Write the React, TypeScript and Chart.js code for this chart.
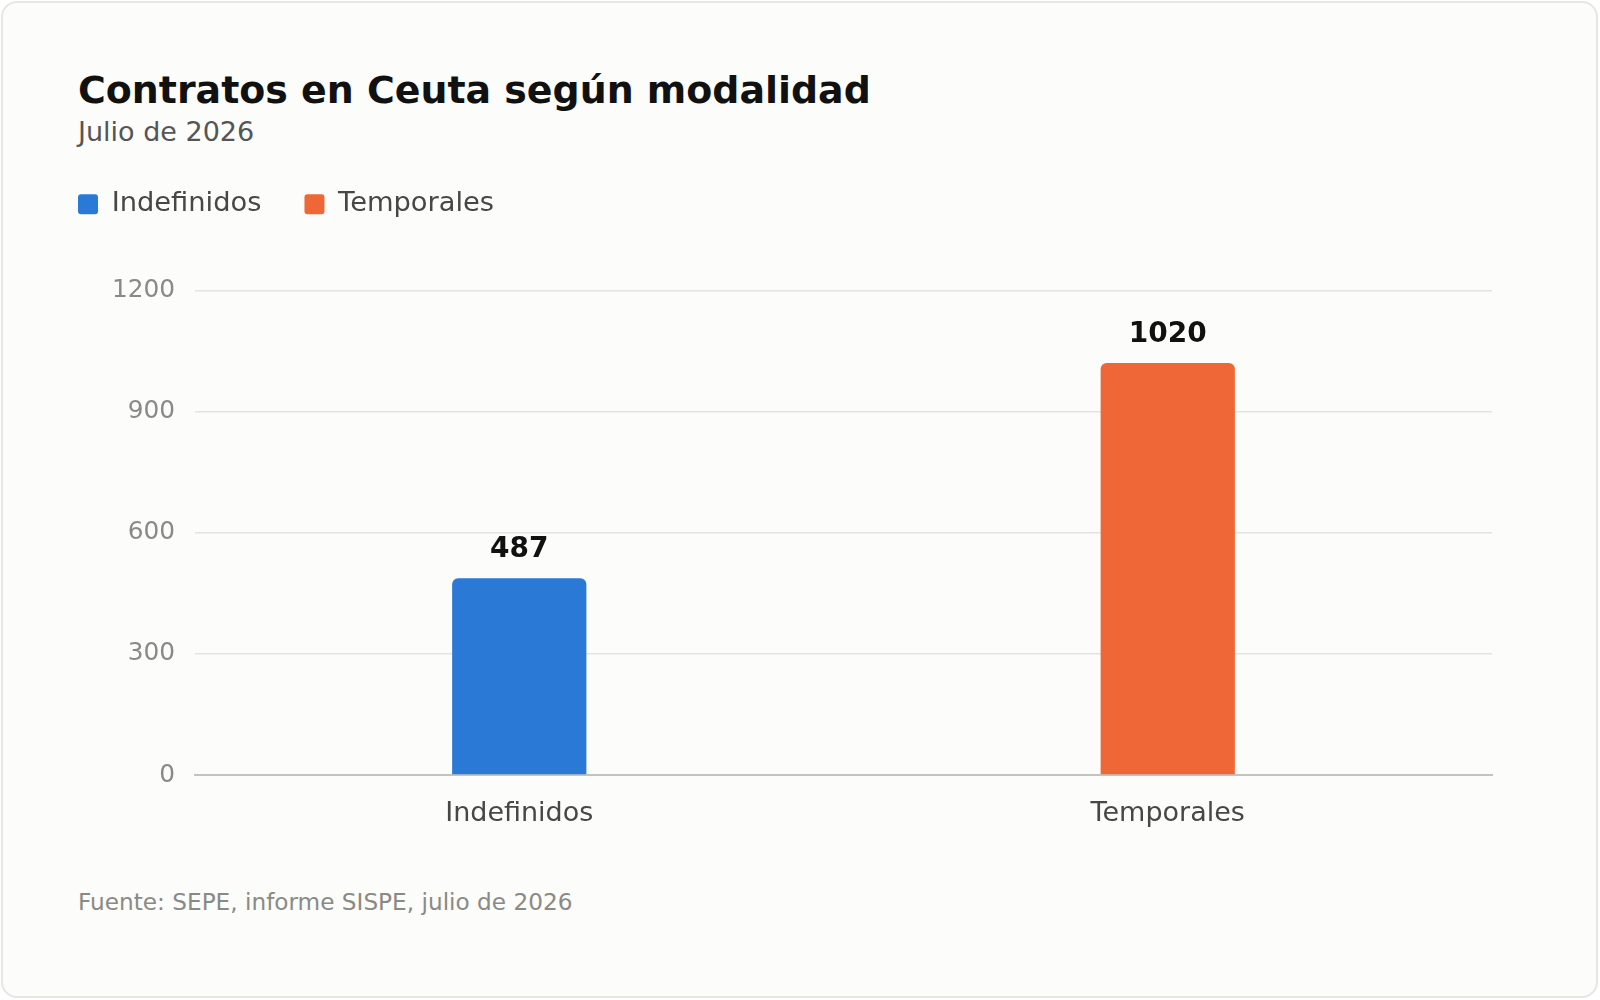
import React, { useEffect, useRef } from 'react';
import { Chart, registerables } from 'chart.js';

Chart.register(...registerables);

const categories = ['Indefinidos', 'Temporales'];
const contracts = [487, 1020];
const barColors = ['#2b79d7', '#ef6736'];
const yTicks = [0, 300, 600, 900, 1200];

const titleText = 'Contratos en Ceuta según modalidad';
const subtitleText = 'Julio de 2026';
const sourceText = 'Fuente: SEPE, informe SISPE, julio de 2026';

const FONT = "'DejaVu Sans', 'Noto Sans', sans-serif";

export default function App() {
  const ref = useRef<HTMLCanvasElement>(null);

  useEffect(() => {
    if (!ref.current) return;
    const valueLabels = {
      id: 'valueLabels',
      afterDatasetsDraw(chart: any) {
        const ctx = chart.ctx;
        const meta = chart.getDatasetMeta(0);
        ctx.save();
        ctx.font = `bold 28px ${FONT}`;
        ctx.fillStyle = '#111111';
        ctx.textAlign = 'center';
        ctx.textBaseline = 'alphabetic';
        meta.data.forEach((el: any, i: number) => {
          ctx.fillText(String(contracts[i]), el.x, el.y - 21);
        });
        ctx.restore();
      },
    };

    const chart = new Chart(ref.current, {
      type: 'bar',
      data: {
        labels: categories,
        datasets: [
          {
            data: contracts,
            backgroundColor: barColors,
            borderRadius: { topLeft: 6, topRight: 6, bottomLeft: 0, bottomRight: 0 },
            borderSkipped: 'bottom',
            categoryPercentage: 1,
            barPercentage: 0.207,
          },
        ],
      },
      options: {
        animation: false,
        responsive: true,
        maintainAspectRatio: false,
        layout: { padding: { top: 7.5, left: 35, right: 108, bottom: 6.5 } },
        plugins: {
          tooltip: { enabled: false },
          title: { display: false },
          subtitle: {
            display: true,
            text: '',
            position: 'top',
            weight: 500,
            padding: 0,
            font: { family: FONT, size: 62.5, lineHeight: 1 },
          },
          legend: {
            display: true,
            position: 'top',
            align: 'start',
            labels: {
              boxWidth: 20,
              boxHeight: 20,
              padding: 43,
              useBorderRadius: true,
              borderRadius: 3,
              color: '#474747',
              font: { family: FONT, size: 27.3 },
              generateLabels: () =>
                categories.map((c, i) => ({
                  text: c,
                  fillStyle: barColors[i],
                  strokeStyle: barColors[i],
                  lineWidth: 0,
                  hidden: false,
                  index: i,
                  borderRadius: 3,
                  fontColor: '#474747',
                })),
            },
          },
        },
        scales: {
          x: {
            grid: { display: false, drawTicks: false },
            border: { display: true, color: '#c4c4bc', width: 2 },
            ticks: { color: '#474747', font: { family: FONT, size: 27 }, padding: 23 },
          },
          y: {
            min: 0,
            max: 1200,
            afterBuildTicks: (s: any) => {
              s.ticks = yTicks.map((v) => ({ value: v }));
            },
            afterFit: (s: any) => {
              s.width = 160;
            },
            grid: { color: '#e3e3df', lineWidth: 1.5, drawTicks: false },
            border: { display: false },
            ticks: {
              color: '#8a8a85',
              font: { family: FONT, size: 24.8 },
              padding: 20,
              callback: (v: any) => String(v),
            },
          },
        },
      },
      plugins: [valueLabels],
    });
    return () => chart.destroy();
  }, []);

  return (
    <div style={{ position: 'absolute', left: 0, top: 0, width: 1600, height: 1000, background: '#ffffff', fontFamily: FONT }}>
      <div
        style={{
          position: 'absolute',
          left: 1,
          top: 1,
          width: 1597,
          height: 997,
          boxSizing: 'border-box',
          border: '2px solid #e6e6e2',
          borderRadius: 16,
          background: '#fcfcfa',
        }}
      />
      <div style={{ position: 'absolute', left: 78, top: 71, fontSize: 37.9, lineHeight: '38px', fontWeight: 'bold', color: '#111111', whiteSpace: 'nowrap' }}>
        {titleText}
      </div>
      <div style={{ position: 'absolute', left: 78, top: 118, fontSize: 27, lineHeight: '27px', color: '#555555', whiteSpace: 'nowrap' }}>
        {subtitleText}
      </div>
      <div style={{ position: 'absolute', left: 0, top: 140, width: 1600, height: 720 }}>
        <canvas ref={ref} />
      </div>
      <div style={{ position: 'absolute', left: 78, top: 890, fontSize: 23.2, lineHeight: '23px', color: '#8a8a85', whiteSpace: 'nowrap' }}>
        {sourceText}
      </div>
    </div>
  );
}
